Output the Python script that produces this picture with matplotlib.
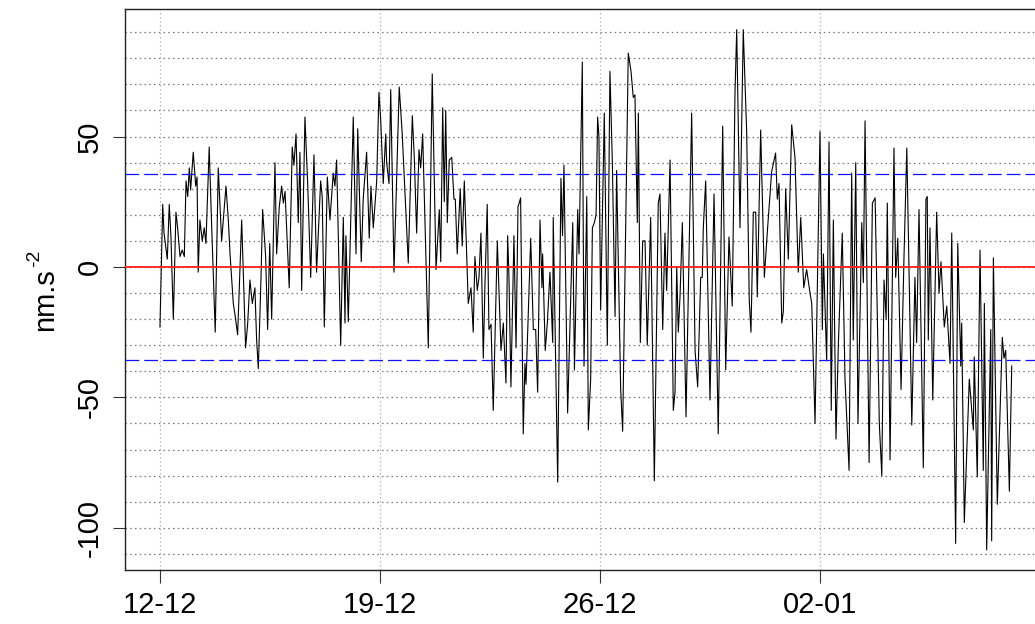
import matplotlib
matplotlib.use("Agg")
import matplotlib.pyplot as plt

plt.rcParams["font.family"] = ["Liberation Sans", "DejaVu Sans"]

# hours since 12-12 00:00, gravity residual in nm.s-2
HOURS = [
    0.0, 2.1, 3.1, 5.6, 7.1, 8.4, 10.2, 12.2, 13.5, 15.3, 17.0, 18.6, 19.9, 21.2,
    22.4, 23.4, 25.4, 27.3, 28.3, 29.2, 30.5, 32.3, 33.8, 35.1, 37.6, 38.9, 42.2,
    44.5, 47.1, 50.4, 52.2, 53.5, 56.0, 57.5, 59.3, 62.4, 65.4, 67.0, 68.7, 70.5,
    72.5, 73.8, 75.1, 77.1, 78.4, 80.7, 82.2, 83.8, 85.3, 87.8, 89.1, 91.1, 92.9,
    94.2, 95.5, 98.7, 101.0, 102.3, 103.9, 105.6, 106.9, 108.2, 110.7, 112.8,
    115.1, 117.6, 119.6, 122.7, 123.9, 125.5, 127.8, 129.8, 132.3, 133.6, 134.9,
    138.0, 140.0, 141.3, 142.0, 143.8, 147.6, 149.7, 151.0, 153.7, 155.2, 157.8,
    159.8, 161.1, 162.9, 165.5, 167.2, 168.5, 170.5, 172.4, 173.1, 174.9, 176.2,
    178.7, 182.7, 185.0, 189.6, 192.7, 194.2, 196.0, 197.8, 199.1, 200.6, 204.9,
    207.9, 210.8, 213.3, 214.4, 215.9, 217.1, 218.2, 219.4, 220.9, 222.8, 224.5,
    225.5, 227.0, 229.3, 230.8, 232.4, 235.4, 237.5, 239.2, 240.5, 242.3, 243.6,
    245.1, 246.9, 248.2, 249.9, 251.2, 252.8, 254.5, 257.6, 260.4, 262.2, 264.2,
    265.5, 266.5, 268.0, 270.3, 271.9, 273.4, 275.4, 277.4, 278.7, 279.5, 283.1,
    285.1, 286.9, 288.4, 290.2, 291.7, 292.2, 294.2, 295.8, 297.8, 299.9, 300.3,
    302.2, 303.7, 306.2, 307.4, 308.5, 311.3, 315.2, 316.5, 319.0, 320.0, 322.5,
    323.8, 325.9, 327.1, 328.9, 330.2, 331.7, 333.0, 334.2, 335.2, 336.5, 339.3,
    341.6, 343.6, 345.4, 347.5, 348.7, 351.8, 353.3, 357.6, 359.7, 361.4, 362.7,
    364.5, 365.3, 366.8, 368.6, 370.4, 372.1, 374.7, 377.5, 380.5, 381.8, 383.9,
    385.6, 386.9, 389.5, 392.0, 393.3, 394.6, 395.8, 397.1, 398.9, 401.7, 406.0,
    408.6, 410.6, 412.9, 414.1, 414.9, 416.7, 420.0, 423.1, 426.3, 429.7, 432.0,
    434.5, 437.0, 439.1, 440.4, 442.9, 445.4, 448.0, 450.0, 451.3, 453.1, 454.9,
    456.1, 458.7, 461.5, 464.0, 467.1, 470.1, 471.4, 472.7, 474.8, 476.0, 477.8,
    479.8, 482.4, 484.9, 487.4, 489.3, 491.6, 493.8, 496.4, 497.7, 500.2, 504.0,
    505.8, 506.6, 509.1, 510.9, 512.6, 514.2, 516.2, 518.0, 521.0, 523.1, 526.2,
    528.2, 529.4, 531.3, 533.0, 535.9, 537.1, 538.4, 541.5, 544.0, 546.1, 549.3,
    551.2, 552.9, 554.5, 555.4, 557.5, 560.5, 561.8, 563.4, 565.9, 568.2, 570.3,
    574.1, 576.5, 577.8, 579.6, 582.9, 584.9, 585.9, 586.7, 588.0, 590.1, 593.1,
    594.9, 596.4, 598.9, 600.8, 603.3, 604.6, 607.6, 609.2, 611.5, 612.2, 614.2,
    618.0, 621.1, 621.8, 624.1, 626.2, 628.7, 629.5, 631.3, 634.4, 635.1, 636.4,
    639.4, 643.2, 644.5, 645.8, 648.6, 650.4,
]
RESIDUAL = [
    -23, 24, 13, 3, 24, 11.5, -20, 21, 15, 4, 6.5, 4, 33, 27,
    38, 29.5, 44, 31, 34.5, -2, 18, 10, 15, 9, 46, 24.5, -25,
    38, 10, 31, 18, 5, -14, -19, -26, 18, -31, -21.5, -5, -14,
    -8, -28, -39, -5, 22, 4, -24, 9, -20, 40, 5, 23, 31,
    24.5, 29, -8, 46, 39, 51, 17, 44, -9, 57.5, 32,
    -4, 43, -2, 33, 27, -23, 34.5, 18, 36, 31, 41,
    -30, 19, -21.5, 12, -21, 57.5, 5, 53, 2, 26, 44,
    11, 31, 15, 33, 67, 57, 32, 51, 40, 32, 68,
    -2, 69, 51, 1.5, 58, 42, 13, 45, 38, 51, -31,
    74, -1, 22, 2, 61, 25, 60, 17, 41, 42, 26,
    26, 5, 30, 8, 33, -14, -8, -25, 4, -9, -4,
    13, -35, -6, 24, -24, -22, -55, 10, -32, -21.5, -44.5,
    12, -4, -46, 12, -31, 23, 26.5, -64, -37, -45, 11,
    -24, -24, -48, 18, -8, 5, -32, -21.5, -2, -29, 19,
    -38, -82.5, 34, 12, 39, -56, 17, -39.5, 22, 5, 78.6,
    -38, 27, -62.5, -43, 15, 17, 20, 57.5, 50, -16.5, 59,
    -30, 75, 41, -19, 37, -47, -63, 82, 75, 65, 66,
    17, 59, -29, 10, 10, -30, 19, -82, 24.5, 28, -24,
    13, -9, 41, -55, -48, 0, -25, -11.5, 17, -57.5, 59,
    -32, -46, -4, -4, 15, 33, -51, 28, -64, 54, -39.5,
    11.5, -15, 67, 91, 15, 91, 52, -13, -25, 21, 21,
    -11.5, 52.5, -4, 15, 36.6, 43.7, 26, 32, -21.5, -17, 30,
    3, 54.5, 42, -2, 19, -8, -1, -10, -14, -60, 52,
    -24, 5, -36, 48, -55, 18, -66, -30, 13, -43, -78,
    36, -28, 40, -60, 17, -6, 56, -75, 24.5, 26.5, -60,
    -80, -5, -20, 24.5, -74, 45.6, -4, 11, -47, 5, 45.6,
    -60.6, -4, -29, 22, -77, 26, 27, -28, 15, -51, 21,
    -10, 2, -23, -15, -37, 13, -106, 9, -38, -21.5, -98,
    -43, -62.5, -34.5, -80.5, 6.5, -78, -14, -108.5, -24, -105, 3.5,
    -91, -27, -35, -32, -86, -38,
]

ZERO_LEVEL = 0
SIGMA_LEVELS = [35.8, -35.8]
GRID_LEVELS = list(range(-110, 91, 10))
YTICKS = [-100, -50, 0, 50]
XTICKS = [0, 168, 336, 504]
XTICK_LABELS = ["12-12", "19-12", "26-12", "02-01"]


fig = plt.figure(figsize=(10.35, 6.24), dpi=100)
ax = fig.add_axes([125 / 1035, 54 / 624, 915 / 1035, 560.7 / 624])

for level in GRID_LEVELS:
    ax.axhline(level, color="#747474", lw=0.9, linestyle=(0, (1.2, 2.6)), zorder=1)
for t in XTICKS:
    ax.axvline(t, color="#b4b4b4", lw=0.9, linestyle=(0, (1.2, 2.0)), zorder=1)

ax.plot(HOURS, RESIDUAL, color="black", lw=0.8, zorder=2)

ax.axhline(ZERO_LEVEL, color="#ff2020", lw=1.3, zorder=3)
for level in SIGMA_LEVELS:
    ax.axhline(level, color="#1010ff", lw=0.9, linestyle=(0, (11, 4)), zorder=3)

ax.set_xlim(-26.7, 672)
ax.set_ylim(-116.2, 98.8)

ax.set_xticks(XTICKS)
ax.set_xticklabels(XTICK_LABELS)
ax.set_yticks(YTICKS)
ax.set_yticklabels([str(v) for v in YTICKS], rotation=90, va="center")
ax.tick_params(axis="both", labelsize=21, length=9, width=0.8, color="#333333")
ax.tick_params(axis="x", pad=6)
ax.tick_params(axis="y", pad=6)

for side in ["left", "bottom", "top"]:
    ax.spines[side].set_linewidth(1.0)
    ax.spines[side].set_color("#222222")
ax.spines["right"].set_visible(False)

# y label with a plain hyphen in the exponent, as in the original
fig.text(45 / 1035, (624 - 300) / 624, "nm.s", rotation=90,
         ha="center", va="center", fontsize=21)
fig.text(35 / 1035, (624 - 267) / 624, "-2", rotation=90,
         ha="center", va="bottom", fontsize=14)

fig.savefig("out.png", dpi=100)
